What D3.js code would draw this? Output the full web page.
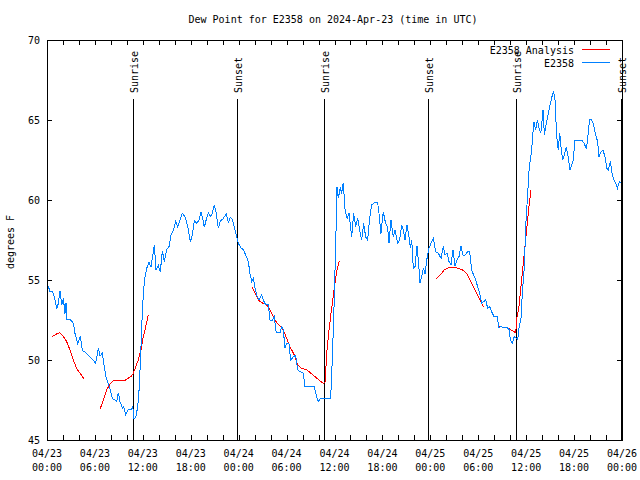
<!DOCTYPE html>
<html>
<head>
<meta charset="utf-8">
<script src="https://cdn.jsdelivr.net/npm/d3@7"></script>
<style>
  body { margin: 0; background: #fff; }
  text { font-family: "DejaVu Sans Mono", monospace; font-size: 10px; fill: #000; }
</style>
</head>
<body>
<svg id="chart" width="640" height="480"></svg>
<script>
// ---- data (hours since 2024-04-23 00:00 UTC) ----
var obsHours = [0.0,0.17,0.38,0.67,0.92,1.21,1.42,1.63,1.84,2.05,2.25,2.38,2.46,2.88,3.3,3.5,3.84,4.0,4.17,4.42,4.76,5.17,5.59,6.09,6.43,6.64,6.93,7.18,7.39,7.68,7.93,8.18,8.51,8.72,8.93,9.14,9.43,9.6,9.85,10.18,10.52,10.73,10.9,11.14,11.36,11.56,11.77,11.93,12.1,12.27,12.48,12.77,13.02,13.31,13.44,13.65,13.94,14.19,14.44,14.69,14.99,15.28,15.53,15.82,16.11,16.36,16.65,16.94,17.28,17.62,17.95,18.2,18.45,18.75,19.03,19.28,19.53,19.7,19.95,20.2,20.45,20.7,20.95,21.2,21.45,21.7,22.0,22.2,22.45,22.7,22.95,23.2,23.45,23.7,23.95,24.29,24.58,24.88,25.21,25.42,25.63,25.84,26.05,26.26,26.55,26.88,27.09,27.38,27.71,27.92,28.21,28.46,28.71,29.18,29.39,29.59,29.8,30.01,30.3,30.51,30.84,31.14,31.39,31.68,32.1,32.31,33.47,33.77,33.97,34.27,35.52,35.73,35.98,36.19,36.31,36.48,36.73,36.9,37.1,37.32,37.57,37.82,38.15,38.4,38.65,38.9,39.19,39.4,39.65,39.9,40.15,40.4,40.65,41.06,41.4,41.57,41.82,42.1,42.4,42.65,42.82,43.07,43.36,43.58,43.91,44.16,44.41,44.62,44.83,45.08,45.33,45.5,45.67,45.87,46.08,46.33,46.5,46.71,46.92,47.13,47.34,47.55,47.84,48.09,48.38,48.67,49.0,49.34,49.63,49.84,50.09,50.34,50.59,50.84,51.09,51.34,51.59,51.84,52.09,52.34,52.68,52.93,53.18,53.43,53.68,53.93,54.18,54.43,54.68,54.93,55.18,55.43,55.68,55.93,56.35,56.6,56.77,57.14,57.56,57.85,58.01,58.26,58.51,58.94,59.1,59.35,59.52,59.77,59.94,60.19,60.39,60.61,60.77,60.96,61.2,61.41,61.62,61.83,61.96,62.11,62.28,62.53,62.78,63.03,63.28,63.45,63.61,63.82,64.02,64.2,64.36,64.57,64.77,65.02,65.27,65.48,65.69,65.9,66.11,66.95,67.28,67.53,67.7,67.95,68.2,68.45,68.7,68.95,69.12,69.37,69.62,69.87,70.12,70.29,70.54,70.79,71.0,71.21,71.42,71.67,71.9];
var obsValues = [54.7,54.6,54.27,54.27,53.96,53.2,53.54,54.3,53.44,53.85,52.9,53.54,52.54,52.54,52.3,51.67,51.04,51.25,51.5,50.6,50.5,50.3,50.1,49.8,50.73,50.25,50.42,49.58,48.96,48.5,48.1,47.6,47.5,47.4,47.96,47.4,47.0,47.1,46.6,46.9,46.9,47.1,46.3,46.45,47.1,48.33,50.83,52.9,54.4,55.2,55.73,56.1,55.8,56.77,57.2,55.6,55.9,55.5,56.83,56.15,56.9,57.1,57.8,58.1,58.65,58.33,58.75,59.17,58.96,58.33,57.4,57.8,58.7,58.54,58.75,59.23,58.75,58.3,58.8,59.2,58.96,59.17,59.7,59.17,58.23,58.7,58.8,58.96,59.1,58.6,58.9,58.8,58.33,57.8,57.3,57.0,56.9,56.56,56.15,55.4,54.9,55.1,54.5,54.06,53.75,54.06,53.75,53.44,53.44,52.5,52.5,52.7,51.7,51.7,52.08,51.9,50.73,51.04,51.04,50.0,50.2,50.3,49.4,49.27,49.17,48.33,48.33,47.7,47.4,47.6,47.6,50.1,53.96,58.1,60.8,60.1,60.8,60.4,61.08,59.4,58.85,59.2,57.7,59.17,58.33,58.85,58.0,57.5,58.54,57.7,57.5,58.85,59.7,59.85,59.85,59.17,57.9,59.27,58.54,58.33,57.3,58.75,57.7,58.1,57.3,57.5,58.44,58.1,57.5,58.44,57.7,57.0,57.5,55.73,55.83,57.1,56.25,54.8,55.2,55.73,55.4,56.25,57.0,57.3,57.6,56.77,56.67,56.35,57.1,56.56,56.67,56.15,55.94,56.9,55.9,56.25,56.46,57.1,56.56,56.56,56.77,56.77,55.6,55.3,55.0,54.58,54.17,53.54,53.65,53.75,53.23,53.33,53.02,52.75,52.75,51.98,52.08,52.04,52.04,51.92,51.29,51.04,51.46,51.29,51.98,52.6,54.17,55.83,58.33,60.42,62.08,62.81,63.65,64.9,64.38,65.0,64.48,64.17,64.8,65.63,64.06,64.8,65.42,66.04,66.56,66.77,66.25,63.96,63.13,64.17,63.33,62.5,62.81,63.33,62.7,61.88,62.19,62.5,63.75,63.75,63.54,63.17,63.85,65.04,65.0,64.69,64.06,63.65,62.7,63.02,63.13,62.7,61.98,61.88,62.4,61.56,61.25,61.04,60.73,61.15,61.1];

// analysis, null marks a gap
var anaHours = [0.67,1.21,1.63,2.05,2.46,2.88,3.3,3.71,4.13,4.68,5.5,
  6.64,7.05,7.47,7.89,8.3,8.72,9.14,9.68,10.1,10.52,10.81,11.11,11.43,11.77,12.06,12.36,12.68,19,
  25.71,26.05,26.47,26.88,27.38,27.71,28.05,28.34,28.76,29.18,29.59,30.01,30.43,30.97,31.39,31.89,32.52,33.06,33.56,34.06,34.6,34.81,35.06,35.31,35.56,35.81,36.06,36.31,36.6,42,
  48.67,49.21,49.75,50.25,50.88,51.5,52.0,52.55,52.97,53.38,53.8,54.22,54.63,55.5,
  56.6,57.14,57.76,58.26,58.69,58.85,59.1,59.35,59.6,59.85,60.1,60.35,60.6];
var anaValues = [51.46,51.63,51.7,51.46,51.15,50.63,50.0,49.48,49.17,48.8,null,
  46.92,47.5,48.13,48.5,48.69,48.75,48.71,48.69,48.85,48.96,49.17,49.58,50.0,50.63,51.46,52.08,52.8,null,
  54.54,54.2,53.75,53.58,53.5,53.33,53.02,52.7,52.33,52.13,51.88,51.35,50.83,50.31,49.69,49.48,49.38,49.17,48.96,48.75,48.54,48.6,50.63,51.88,52.9,53.85,54.8,55.63,56.19,null,
  55.04,55.3,55.63,55.77,55.79,55.73,55.63,55.42,55.0,54.58,54.17,53.75,53.33,null,
  52.13,52.04,51.98,51.83,51.7,52.7,53.33,54.58,55.83,57.08,58.33,59.58,60.63];

var sunHours = [10.81, 23.85, 34.72, 47.75, 58.73, 71.88];
var sunLabels = ["Sunrise", "Sunset", "Sunrise", "Sunset", "Sunrise", "Sunset"];

var yTicks = [45, 50, 55, 60, 65, 70];
var seriesNames = ["E2358 Analysis", "E2358"];
var seriesColors = ["#ff0000", "#0080ff"];

var titleText = "Dew Point for E2358 on 2024-Apr-23 (time in UTC)";
var yLabel = "degrees F";

// ---- layout ----
var plotL = 47, plotR = 622, plotT = 40, plotB = 440;
var t0 = Date.UTC(2024, 3, 23);
function hr(h) { return new Date(t0 + h * 3600000); }

var svg = d3.select('#chart');
svg.append('rect').attr('width', 640).attr('height', 480).attr('fill', '#fff');

var x = d3.scaleUtc().domain([hr(0), hr(72)]).range([plotL, plotR]);
var y = d3.scaleLinear().domain([45, 70]).range([plotB, plotT]);

// title + y label
svg.append('text').attr('x', 333).attr('y', 23).attr('text-anchor', 'middle').text(titleText);
svg.append('text').attr('transform', 'translate(14,242) rotate(-90)')
	.attr('text-anchor', 'middle').text(yLabel);

// ticks every 2 hours, labels every 6
var tickG = svg.append('g').attr('shape-rendering', 'crispEdges').attr('stroke', '#000');
d3.utcHour.every(2).range(hr(0), hr(72.01)).forEach(function(d) {
	var px = Math.round(x(d)) + 0.5;
	tickG.append('line').attr('x1', px).attr('x2', px).attr('y1', plotB).attr('y2', plotB - 5);
	tickG.append('line').attr('x1', px).attr('x2', px).attr('y1', plotT).attr('y2', plotT + 5);
});
yTicks.forEach(function(v) {
	var py = Math.round(y(v)) + 0.5;
	tickG.append('line').attr('x1', plotL).attr('x2', plotL + 5).attr('y1', py).attr('y2', py);
	tickG.append('line').attr('x1', plotR).attr('x2', plotR - 5).attr('y1', py).attr('y2', py);
	svg.append('text').attr('x', 40).attr('y', y(v) + 4).attr('text-anchor', 'end').text(v);
});
var fmtDay = d3.utcFormat('%m/%d'), fmtTime = d3.utcFormat('%H:%M');
x.ticks(d3.utcHour.every(6)).forEach(function(d) {
	svg.append('text').attr('x', x(d)).attr('y', 457).attr('text-anchor', 'middle').text(fmtDay(d));
	svg.append('text').attr('x', x(d)).attr('y', 471).attr('text-anchor', 'middle').text(fmtTime(d));
});

// sunrise / sunset markers
sunHours.forEach(function(h, i) {
	var px = Math.round(x(hr(h))) + 0.5;
	svg.append('line').attr('x1', px).attr('x2', px).attr('y1', 99).attr('y2', plotB)
		.attr('stroke', '#000').attr('shape-rendering', 'crispEdges');
	svg.append('text').attr('transform', 'translate(' + (px + 4) + ',93) rotate(-90)')
		.text(sunLabels[i]);
});

// series
var line = d3.line()
	.defined(function(d) { return d[1] !== null; })
	.x(function(d) { return x(hr(d[0])); })
	.y(function(d) { return y(d[1]); });

var anaData = anaHours.map(function(h, i) { return [h, anaValues[i]]; });
var obsData = obsHours.map(function(h, i) { return [h, obsValues[i]]; });

svg.append('path').datum(anaData).attr('d', line).attr('fill', 'none')
	.attr('stroke', seriesColors[0]).attr('stroke-width', 1).attr('shape-rendering', 'crispEdges');
svg.append('path').datum(obsData).attr('d', line).attr('fill', 'none')
	.attr('stroke', seriesColors[1]).attr('stroke-width', 1).attr('shape-rendering', 'crispEdges');

// frame
svg.append('rect').attr('x', plotL + 0.5).attr('y', plotT + 0.5)
	.attr('width', plotR - plotL).attr('height', plotB - plotT)
	.attr('fill', 'none').attr('stroke', '#000').attr('shape-rendering', 'crispEdges');

// legend
seriesNames.forEach(function(name, i) {
	var ly = 50 + i * 13;
	svg.append('text').attr('x', 574).attr('y', ly + 4).attr('text-anchor', 'end').text(name);
	svg.append('line').attr('x1', 582).attr('x2', 610).attr('y1', ly - 0.5).attr('y2', ly - 0.5)
		.attr('stroke', seriesColors[i]).attr('shape-rendering', 'crispEdges');
});
</script>
</body>
</html>
